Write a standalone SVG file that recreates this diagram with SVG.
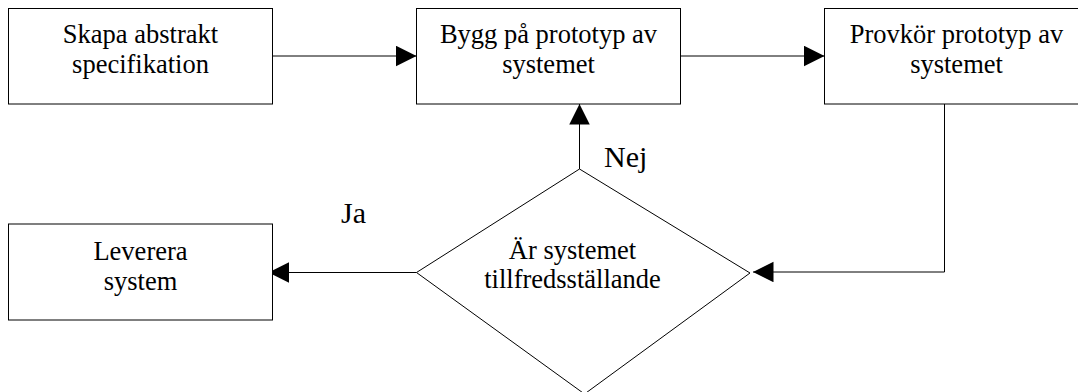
<svg xmlns="http://www.w3.org/2000/svg" width="1078" height="392" viewBox="0 0 1078 392">
  <style>
    .box { fill: #ffffff; stroke: #000000; stroke-width: 1; }
    .lbl { font-size: 26.5px; fill: #000000; text-anchor: middle; }
    .big { font-size: 30px; fill: #000000; }
    .conn { fill: none; stroke: #000000; stroke-width: 1; }
  </style>
  <defs>
    <marker id="arrow" markerUnits="userSpaceOnUse" markerWidth="21" markerHeight="21" refX="20.5" refY="10.25" orient="auto" viewBox="0 0 21 21">
      <path d="M0,0 L20.5,10.25 L0,20.5 Z" fill="#000000"/>
    </marker>
  </defs>
  <rect width="1078" height="392" fill="#ffffff"/>

  <g id="connectors" font-family="Liberation Serif, Times New Roman, serif">
    <line class="conn" x1="272.5" y1="56" x2="416.5" y2="56" marker-end="url(#arrow)"/>
    <line class="conn" x1="680.5" y1="56" x2="824.5" y2="56" marker-end="url(#arrow)"/>
    <polyline class="conn" points="944.5,104 944.5,272 753,272" marker-end="url(#arrow)"/>
    <line class="conn" x1="579.5" y1="169" x2="579.5" y2="104" marker-end="url(#arrow)"/>
    <line class="conn" x1="416.5" y1="272.5" x2="268.5" y2="272.5" marker-end="url(#arrow)"/>
    <text class="big" x="604" y="166.7">Nej</text>
    <text class="big" x="341" y="223.3">Ja</text>
  </g>

  <g id="node-skapa" font-family="Liberation Serif, Times New Roman, serif">
    <rect class="box" x="8.5" y="8.5" width="264" height="95.5"/>
    <text class="lbl" x="140.5" y="43">Skapa abstrakt</text>
    <text class="lbl" x="140.5" y="72.5">specifikation</text>
  </g>

  <g id="node-bygg" font-family="Liberation Serif, Times New Roman, serif">
    <rect class="box" x="416.5" y="8.5" width="264" height="95.5"/>
    <text class="lbl" x="548.5" y="43">Bygg på prototyp av</text>
    <text class="lbl" x="548.5" y="72.5">systemet</text>
  </g>

  <g id="node-provkor" font-family="Liberation Serif, Times New Roman, serif">
    <rect class="box" x="824.5" y="8.5" width="264" height="95.5"/>
    <text class="lbl" x="956.5" y="43">Provkör prototyp av</text>
    <text class="lbl" x="956.5" y="72.5">systemet</text>
  </g>

  <g id="node-leverera" font-family="Liberation Serif, Times New Roman, serif">
    <rect class="box" x="8.5" y="224" width="264" height="96"/>
    <text class="lbl" x="140.5" y="260">Leverera</text>
    <text class="lbl" x="140.5" y="289.5">system</text>
  </g>

  <g id="node-beslut" font-family="Liberation Serif, Times New Roman, serif">
    <polygon class="box" points="579.5,169 750,273 584.5,394 416.5,272.5"/>
    <text class="lbl" x="572.5" y="259">Är systemet</text>
    <text class="lbl" x="572.5" y="288.3">tillfredsställande</text>
  </g>
</svg>
